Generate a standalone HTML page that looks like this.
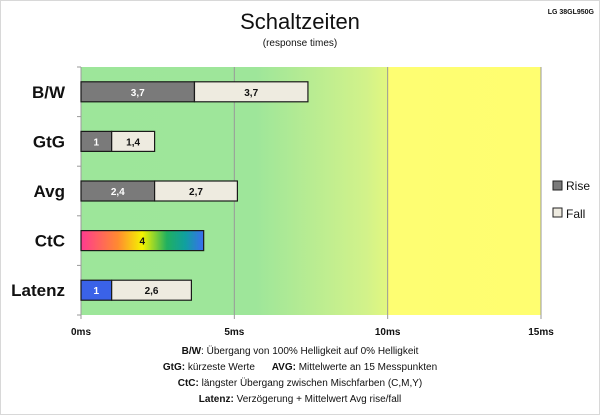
<!DOCTYPE html>
<html><head><meta charset="utf-8"><style>
body{margin:0;background:#fff;font-family:"Liberation Sans",sans-serif}
#c{position:relative;width:600px;height:415px;overflow:hidden}
</style></head><body>
<div id="c">
<svg id="s" width="600" height="415" xmlns="http://www.w3.org/2000/svg">
<defs>
<linearGradient id="bg" x1="0" x2="1" y1="0" y2="0">
<stop offset="0" stop-color="#9de69a"/><stop offset="0.38" stop-color="#9ee69a"/><stop offset="0.62" stop-color="#d2f28a"/><stop offset="0.6667" stop-color="#e2f780"/><stop offset="0.6667" stop-color="#fefe72"/><stop offset="1" stop-color="#fffe70"/>
</linearGradient>
<linearGradient id="ctc" x1="0" x2="1" y1="0" y2="0">
<stop offset="0" stop-color="#ff3a90"/><stop offset="0.3" stop-color="#ff8a30"/><stop offset="0.5" stop-color="#f4f400"/><stop offset="0.7" stop-color="#20b060"/><stop offset="0.85" stop-color="#10a0a0"/><stop offset="1" stop-color="#3a6ef0"/>
</linearGradient>
</defs>
<rect x="0.5" y="0.5" width="599" height="414" fill="#fff" stroke="#d8d8d8"/>
<text x="300" y="29" text-anchor="middle" font-size="22" fill="#111">Schaltzeiten</text>
<text x="300" y="46" text-anchor="middle" font-size="10" fill="#111">(response times)</text>
<text x="594" y="14" text-anchor="end" font-size="7" font-weight="bold" fill="#111">LG 38GL950G</text>
<g id="plot"></g>
<g>
<rect x="553" y="181" width="9" height="9" fill="#7a7a7a" stroke="#222"/>
<text x="566" y="190" font-size="12" fill="#111">Rise</text>
<rect x="553" y="208" width="9" height="9" fill="#eeebe0" stroke="#222"/>
<text x="566" y="218" font-size="12" fill="#111">Fall</text>
</g>
<g font-size="10" text-anchor="middle" fill="#111">
<text x="300" y="354"><tspan font-weight="bold">B/W</tspan>:  Übergang von 100% Helligkeit auf 0% Helligkeit</text>
<text x="300" y="370"><tspan font-weight="bold">GtG:</tspan> kürzeste Werte <tspan dx="14" font-weight="bold">AVG:</tspan> Mittelwerte an 15 Messpunkten</text>
<text x="300" y="386"><tspan font-weight="bold">CtC:</tspan> längster Übergang zwischen Mischfarben (C,M,Y)</text>
<text x="300" y="402"><tspan font-weight="bold">Latenz:</tspan> Verzögerung + Mittelwert Avg rise/fall</text>
</g>
</svg>
</div>
<script>
const categories=["B/W","GtG","Avg","CtC","Latenz"];
const riseValues=[3.7,1,2.4,4,1];
const fallValues=[3.7,1.4,2.7,0,2.6];
const riseLabels=["3,7","1","2,4","4","1"];
const fallLabels=["3,7","1,4","2,7","","2,6"];
const xTicks=[0,5,10,15];
const xTickLabels=["0ms","5ms","10ms","15ms"];
const NS="http://www.w3.org/2000/svg";
const L=81,R=541,T=67,B=315,xMax=15;
const x=v=>L+(R-L)*v/xMax;
const band=(B-T)/categories.length;
const y=i=>T+band*(i+0.5);
const g=document.getElementById('plot');
function mk(t,a){const e=document.createElementNS(NS,t);for(const k in a)e.setAttribute(k,a[k]);g.appendChild(e);return e;}
let e=mk('rect',{x:L,y:T,width:R-L,height:B-T,fill:'url(#bg)'});


xTicks.forEach((t,i)=>{
 if(t>0){e=mk('line',{x1:x(t),x2:x(t),y1:T,y2:B,stroke:'#999','stroke-width':1});
 
 }
 e=mk('line',{x1:x(t),x2:x(t),y1:B,y2:B+4,stroke:'#999'});
 
 
 e=mk('text',{x:x(t),y:B+20,'text-anchor':'middle','font-size':10,'font-weight':'bold',fill:'#111'});
 e.textContent=xTickLabels[i];
 
 
});
e=mk('line',{x1:L,x2:L,y1:T,y2:B,stroke:'#999'});


for(let i=0;i<=categories.length;i++){e=mk('line',{x1:L-4,x2:L,y1:T+band*i,y2:T+band*i,stroke:'#999'});

}
const bh=20;
categories.forEach((c,i)=>{
 const cy=y(i);
 e=mk('text',{x:65,y:cy+6,'text-anchor':'end','font-size':17,'font-weight':'bold',fill:'#111'});
 e.textContent=c;
 
 
 let fill=c==="CtC"?'url(#ctc)':(c==="Latenz"?'#3a62e8':'#7a7a7a');
 e=mk('rect',{x:x(0),y:cy-bh/2,width:x(riseValues[i])-x(0),height:bh,fill:fill,stroke:'#1a1a1a','stroke-width':1.2});
 
 
 e=mk('text',{x:(x(0)+x(riseValues[i]))/2,y:cy+4,'text-anchor':'middle','font-size':10,'font-weight':'bold',fill:c==="CtC"?'#111':'#fff'});
 e.textContent=riseLabels[i];
 
 
 if(fallValues[i]>0){
  const x0=x(riseValues[i]),x1=x(riseValues[i]+fallValues[i]);
  e=mk('rect',{x:x0,y:cy-bh/2,width:x1-x0,height:bh,fill:'#eeebe0',stroke:'#1a1a1a','stroke-width':1.2});
  
  
  e=mk('text',{x:(x0+x1)/2,y:cy+4,'text-anchor':'middle','font-size':10,'font-weight':'bold',fill:'#111'});
  e.textContent=fallLabels[i];
  
  
 }
});
</script>
</body></html>
